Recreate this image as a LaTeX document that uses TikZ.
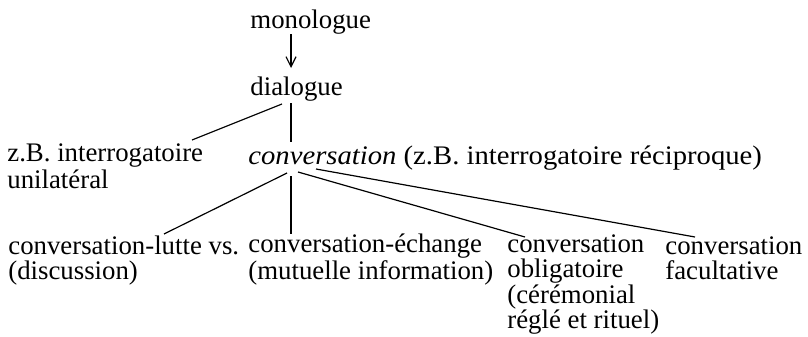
\documentclass[tikz,border=0pt]{standalone}
\usepackage{fontspec}
\setmainfont{Liberation Serif}
\usetikzlibrary{arrows.meta}
\tikzset{
  term/.style={anchor=base west, inner sep=0pt, align=left,
    font=\fontsize{13.4pt}{12.2pt}\selectfont},
  wide/.style={font=\fontsize{13.4pt}{12.2pt}\selectfont\addfontfeatures{FakeStretch=1.07}},
  branch/.style={line width=0.6pt}
}
\begin{document}
\begin{tikzpicture}[x=0.5pt,y=-0.5pt]
  \useasboundingbox (0,0) rectangle (808,337);
  % Stufen
  \node[term] (mono) at (250,28) {monologue};
  \node[term] (dia) at (250,95) {dialogue};
  \node[term] (zb) at (7,188) {z.B. interrogatoire\\unilatéral};
  \node[term, wide] (conv) at (248,164) {\textit{conversation} (z.B. interrogatoire réciproque)};
  % Arten der conversation
  \node[term] (lutte) at (8,279) {conversation-lutte vs.\\(discussion)};
  \node[term] (echange) at (248,279) {conversation-échange\\(mutuelle information)};
  \node[term] (oblig) at (507,328) {conversation\\obligatoire\\(cérémonial\\réglé et rituel)};
  \node[term] (facult) at (665,279) {conversation\\facultative};
  % Anschlusspunkte
  \coordinate (mono-s) at (291,34);
  \coordinate (dia-n) at (291,68);
  \coordinate (dia-s) at (291,103);
  \coordinate (dia-sw) at (282,104);
  \coordinate (conv-n) at (291,142);
  \coordinate (zb-n) at (192,140);
  \coordinate (conv-s) at (291,176);
  \coordinate (conv-sw) at (287,173);
  \coordinate (conv-se) at (298,172);
  \coordinate (conv-see) at (316,169);
  \coordinate (lutte-n) at (164,234);
  \coordinate (echange-n) at (291,234);
  \coordinate (oblig-n) at (525,237);
  \coordinate (facult-n) at (695,237);
  % Verbindungen
  \draw[branch, -{Straight Barb[length=5pt,width=5pt]}] (mono-s) -- (dia-n);
  \draw[branch] (dia-s) -- (conv-n);
  \draw[branch] (dia-sw) -- (zb-n);
  \draw[branch] (conv-sw) -- (lutte-n);
  \draw[branch] (conv-s) -- (echange-n);
  \draw[branch] (conv-se) -- (oblig-n);
  \draw[branch] (conv-see) -- (facult-n);
\end{tikzpicture}
\end{document}
